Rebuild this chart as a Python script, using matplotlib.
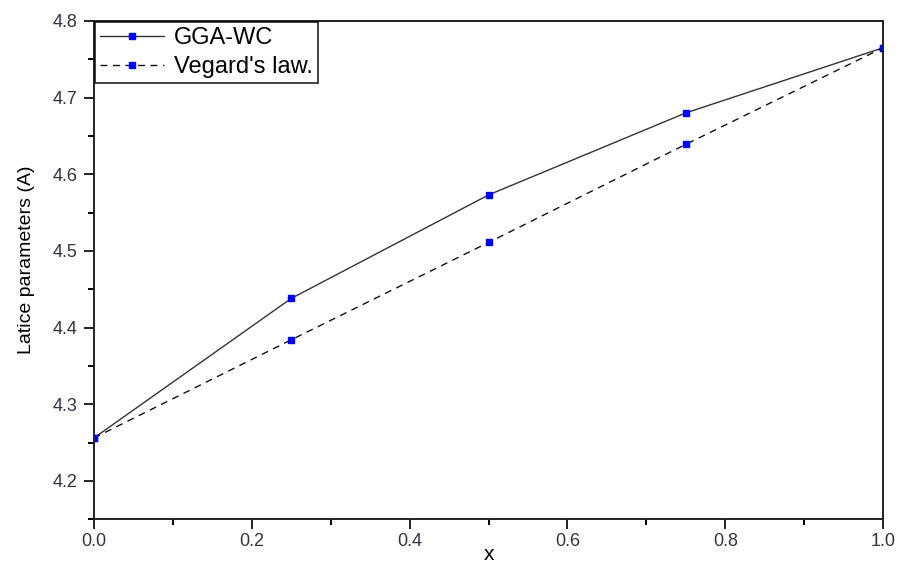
import matplotlib
matplotlib.use("Agg")
import matplotlib.pyplot as plt
from matplotlib.ticker import MultipleLocator

# ── Data ─────────────────────────────────────────────────────────────────────

x = [0.0, 0.25, 0.5, 0.75, 1.0]
gga_wc = [4.256, 4.438, 4.573, 4.680, 4.765]
vegard = [4.256, 4.384, 4.511, 4.639, 4.765]

# ── Plot ─────────────────────────────────────────────────────────────────────

plt.rcParams["font.family"] = ["Liberation Sans", "DejaVu Sans"]

fig = plt.figure(figsize=(9.03, 5.65), dpi=100)
ax = fig.add_axes([0.104, 0.081, 0.874, 0.882])

ax.plot(x, gga_wc, "-", color="#333333", lw=1.0, marker="s", ms=5,
        mfc="#0000ff", mec="#0000ff", label="GGA-WC")
ax.plot(x, vegard, "--", color="#111111", lw=1.0, marker="s", ms=5,
        mfc="#0000ff", mec="#0000ff", dashes=(5, 4), label="Vegard's law.")

ax.set_xlim(0.0, 1.0)
ax.set_ylim(4.15, 4.8)
ax.xaxis.set_major_locator(MultipleLocator(0.2))
ax.xaxis.set_minor_locator(MultipleLocator(0.1))
ax.yaxis.set_major_locator(MultipleLocator(0.1))
ax.yaxis.set_minor_locator(MultipleLocator(0.05))
ax.xaxis.set_major_formatter(plt.FormatStrFormatter("%.1f"))
ax.yaxis.set_major_formatter(plt.FormatStrFormatter("%.1f"))

ax.tick_params(which="major", direction="out", length=7, width=1.4,
               labelsize=13, colors="#222222", labelcolor="#333344")
ax.tick_params(which="minor", direction="out", length=4, width=1.4)
ax.tick_params(axis="y", which="major", pad=5)
ax.tick_params(axis="x", which="major", pad=3)
for s in ax.spines.values():
    s.set_linewidth(1.4)
    s.set_color("#222222")

ax.set_xlabel("x", fontsize=15, labelpad=-4)
ax.set_ylabel("Latice parameters (A)", fontsize=14)
ax.yaxis.set_label_coords(-0.075, 0.52)

leg = ax.legend(loc="upper left", fontsize=17, frameon=True, fancybox=False,
                borderaxespad=0.05, handlelength=2.7, handletextpad=0.45,
                borderpad=0.2, labelspacing=0.3)
leg.get_frame().set_edgecolor("black")
leg.get_frame().set_linewidth(1.3)

fig.savefig("out.png", dpi=100)
